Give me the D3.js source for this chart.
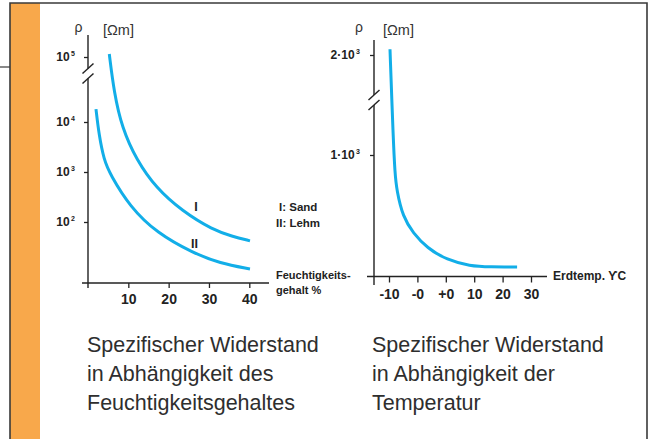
<!DOCTYPE html>
<html><head><meta charset="utf-8">
<script src="https://cdn.jsdelivr.net/npm/d3@7/dist/d3.min.js"></script>
<style>
html,body{margin:0;padding:0;background:#fff;}
svg{display:block;}
text{font-family:"Liberation Sans",Arial,sans-serif;}
</style></head>
<body>
<script>
// ---- data ----
const moistTicks = [10, 20, 30, 40];
const rhoTicksLeft = [100, 1000, 10000, 100000];
const rhoExpLeft = ["2", "3", "4", "5"];
const sandX = [5.28, 6.45, 8.43, 12.03, 16.86, 23.31, 30.99, 35.7, 40.17];
const sandRho = [111000, 29000, 7600, 1740, 480, 166, 69, 52, 42];
const lehmX = [1.98, 2.73, 3.97, 5.46, 10.42, 17.11, 26.04, 32.7, 40.17];
const lehmRho = [15800, 5500, 1740, 910, 200, 60, 24, 15, 11.5];
const tempTickLabels = ["-10", "-0", "+0", "10", "20", "30"];
const rhoTicksRight = [1000, 2000];
const rhoBaseRight = ["1·10", "2·10"];
const tempSlot = [0.035, 0.15, 0.21, 0.27, 0.49, 0.85, 1.34, 2.04, 2.85, 3.56, 4.51];
const tempRho = [2057, 1150, 852, 712, 490, 358, 235, 136, 86, 78, 78];
const captionLeft = ["Spezifischer Widerstand", "in Abhängigkeit des", "Feuchtigkeitsgehaltes"];
const captionRight = ["Spezifischer Widerstand", "in Abhängigkeit der", "Temperatur"];

const W = 653, H = 439;
const blue = "#12AEE8", ink = "#222";
const svg = d3.select("body").append("svg").attr("width", W).attr("height", H);
svg.append("rect").attr("width", W).attr("height", H).attr("fill", "#fff");

// frame
svg.append("rect").attr("x", 10).attr("y", 3).attr("width", 30).attr("height", H).attr("fill", "#F8A84B");
svg.append("path").attr("d", `M10,${H} V3 H647 V${H}`).attr("fill", "none").attr("stroke", "#3a3a3a").attr("stroke-width", 1.6);
svg.append("line").attr("x1", 0).attr("x2", 10).attr("y1", 67).attr("y2", 67).attr("stroke", "#3a3a3a").attr("stroke-width", 1.2);

// ---------- left chart ----------
const xL = d3.scaleLinear().domain([0, 40]).range([88, 249.3]);
const yL = d3.scaleLog().domain([10, 10000, 100000]).range([272, 122, 57]);
const axL = 88, axB = 283;

function brokenAxis(x, top, bottom, gapTop, gapBot) {
  const g = svg.append("g").attr("stroke", ink).attr("stroke-width", 1.4).attr("fill", "none");
  g.append("line").attr("x1", x).attr("x2", x).attr("y1", top).attr("y2", gapTop);
  g.append("line").attr("x1", x).attr("x2", x).attr("y1", gapBot).attr("y2", bottom);
  [gapTop, gapBot].forEach(c => {
    g.append("line").attr("x1", x - 5.5).attr("y1", c + 5).attr("x2", x + 5.5).attr("y2", c - 5);
  });
}
brokenAxis(axL, 35, 288, 68.5, 78.5);
svg.append("line").attr("x1", 82).attr("x2", 269).attr("y1", axB).attr("y2", axB).attr("stroke", ink).attr("stroke-width", 1.4);

const yAxisL = svg.append("g").attr("transform", `translate(${axL},0)`)
  .call(d3.axisLeft(yL).tickValues(rhoTicksLeft).tickSize(4).tickPadding(9).tickFormat(() => ""));
yAxisL.select(".domain").remove();
yAxisL.selectAll(".tick line").attr("stroke", ink).attr("stroke-width", 1.3);
yAxisL.selectAll(".tick text").each(function(d, i) {
  const t = d3.select(this).attr("fill", ink).attr("font-size", 12).attr("font-weight", "bold")
    .attr("font-family", "Liberation Sans, Arial, sans-serif");
  t.append("tspan").text("10");
  t.append("tspan").attr("dx", 1.5).attr("dy", -5).attr("font-size", 7).text(rhoExpLeft[i]);
});

const xAxisL = svg.append("g").attr("transform", `translate(0,${axB})`)
  .call(d3.axisBottom(xL).tickValues(moistTicks).tickSize(5).tickPadding(6));
xAxisL.select(".domain").remove();
xAxisL.selectAll(".tick line").attr("stroke", ink).attr("stroke-width", 1.3);
xAxisL.selectAll(".tick text").attr("fill", ink).attr("font-size", 14).attr("font-weight", "bold")
  .attr("font-family", "Liberation Sans, Arial, sans-serif");

const lineL = d3.line().x(d => xL(d[0])).y(d => yL(d[1])).curve(d3.curveBasis);
svg.append("path").attr("d", lineL(d3.zip(sandX, sandRho))).attr("fill", "none").attr("stroke", blue).attr("stroke-width", 3);
svg.append("path").attr("d", lineL(d3.zip(lehmX, lehmRho))).attr("fill", "none").attr("stroke", blue).attr("stroke-width", 3);

// ---------- right chart ----------
const xR = d3.scaleLinear().domain([0, 5]).range([389, 531]);
const yR = d3.scaleLinear().domain([0, 1000, 2000]).range([276.5, 155, 55]);
const axL2 = 374, axB2 = 276.5;
brokenAxis(axL2, 40, 285, 95, 105);
svg.append("line").attr("x1", 367).attr("x2", 547).attr("y1", axB2).attr("y2", axB2).attr("stroke", ink).attr("stroke-width", 1.4);

const yAxisR = svg.append("g").attr("transform", `translate(${axL2},0)`)
  .call(d3.axisLeft(yR).tickValues(rhoTicksRight).tickSize(4).tickPadding(10).tickFormat(() => ""));
yAxisR.select(".domain").remove();
yAxisR.selectAll(".tick line").attr("stroke", ink).attr("stroke-width", 1.3);
yAxisR.selectAll(".tick text").each(function(d, i) {
  const t = d3.select(this).attr("fill", ink).attr("font-size", 12).attr("font-weight", "bold")
    .attr("font-family", "Liberation Sans, Arial, sans-serif");
  t.append("tspan").text(rhoBaseRight[i]);
  t.append("tspan").attr("dx", 1.5).attr("dy", -5).attr("font-size", 7).text("3");
});

const xAxisR = svg.append("g").attr("transform", `translate(0,${axB2})`)
  .call(d3.axisBottom(xR).tickValues(d3.range(tempTickLabels.length)).tickSize(6).tickPadding(6.5)
    .tickFormat((d, i) => tempTickLabels[i]));
xAxisR.select(".domain").remove();
xAxisR.selectAll(".tick line").attr("stroke", ink).attr("stroke-width", 1.3);
xAxisR.selectAll(".tick text").attr("fill", ink).attr("font-size", 14).attr("font-weight", "bold")
  .attr("font-family", "Liberation Sans, Arial, sans-serif");

const lineR = d3.line().x(d => xR(d[0])).y(d => yR(d[1])).curve(d3.curveBasis);
svg.append("path").attr("d", lineR(d3.zip(tempSlot, tempRho))).attr("fill", "none").attr("stroke", blue).attr("stroke-width", 3);

// ---------- labels ----------
function txt(x, y, s, opts = {}) {
  return svg.append("text").attr("x", x).attr("y", y).text(s)
    .attr("font-size", opts.size || 12).attr("font-weight", opts.bold ? "bold" : "normal")
    .attr("fill", opts.fill || ink).attr("text-anchor", opts.anchor || "start");
}
txt(78.5, 32, "ρ", {size: 14, anchor: "middle", fill: "#333"});
txt(103, 35, "[Ωm]", {size: 14.5, fill: "#333"});
txt(359, 32, "ρ", {size: 14, anchor: "middle", fill: "#333"});
txt(383, 35, "[Ωm]", {size: 14.5, fill: "#333"});

txt(196, 211, "I", {bold: true, anchor: "middle", size: 12.5});
txt(194.5, 248, "II", {bold: true, anchor: "middle", size: 12.5});
txt(279, 211, "I: Sand", {bold: true, size: 11.5});
txt(276, 227, "II: Lehm", {bold: true, size: 11.5});
txt(276, 279, "Feuchtigkeits-", {bold: true, size: 11});
txt(276, 294, "gehalt %", {bold: true, size: 11});
txt(553, 280, "Erdtemp. ϒC", {bold: true, size: 12});

captionLeft.forEach((s, i) => txt(87, 352 + i * 29, s, {size: 21.5, fill: "#2e2e2e"}));
captionRight.forEach((s, i) => txt(372, 352 + i * 29, s, {size: 21.5, fill: "#2e2e2e"}));
</script>
</body></html>
